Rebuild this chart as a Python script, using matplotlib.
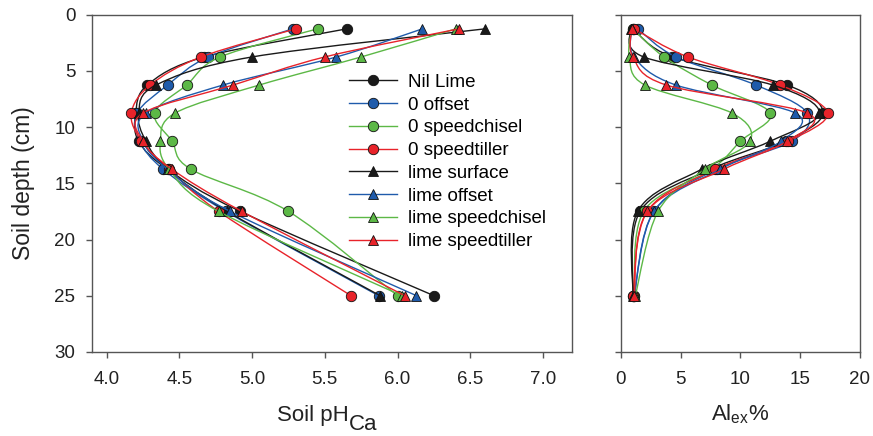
import numpy as np
import matplotlib
matplotlib.use("Agg")
import matplotlib.pyplot as plt
from matplotlib.path import Path
from matplotlib.patches import PathPatch

plt.rcParams['font.family'] = ['Liberation Sans', 'DejaVu Sans']
plt.rcParams['mathtext.fontset'] = 'custom'
plt.rcParams['mathtext.rm'] = 'Liberation Sans'
plt.rcParams['mathtext.it'] = 'Liberation Sans'

depth = [1.25, 3.75, 6.25, 8.75, 11.25, 13.75, 17.5, 25]

labels = ["Nil Lime", "0 offset", "0 speedchisel", "0 speedtiller",
          "lime surface", "lime offset", "lime speedchisel", "lime speedtiller"]
colors = ["#1a1a1a", "#1f5bab", "#5cb846", "#e8232a",
          "#1a1a1a", "#1f5bab", "#5cb846", "#e8232a"]
markers = ["o", "o", "o", "o", "^", "^", "^", "^"]

ph_nil = [5.65, 4.67, 4.28, 4.20, 4.22, 4.42, 4.92, 6.25]
ph_0off = [5.28, 4.70, 4.42, 4.21, 4.23, 4.39, 4.82, 5.87]
ph_0chisel = [5.45, 4.78, 4.55, 4.33, 4.45, 4.58, 5.25, 6.00]
ph_0tiller = [5.30, 4.65, 4.30, 4.17, 4.24, 4.43, 4.77, 5.68]
ph_lsurf = [6.60, 5.00, 4.34, 4.22, 4.27, 4.42, 4.83, 5.88]
ph_loff = [6.17, 5.58, 4.80, 4.27, 4.25, 4.42, 4.85, 6.13]
ph_lchisel = [6.40, 5.75, 5.05, 4.47, 4.37, 4.43, 4.77, 6.03]
ph_ltiller = [6.42, 5.50, 4.87, 4.25, 4.25, 4.45, 4.93, 6.05]

al_nil = [1.0, 4.3, 13.9, 16.9, 13.8, 7.5, 1.6, 1.0]
al_0off = [1.4, 4.6, 11.3, 15.6, 14.3, 8.0, 2.75, 1.1]
al_0chisel = [1.0, 3.6, 7.6, 12.5, 10.0, 7.6, 1.9, 1.1]
al_0tiller = [1.1, 5.6, 13.3, 17.3, 14.0, 7.9, 2.2, 1.0]
al_lsurf = [0.8, 1.9, 12.7, 16.6, 12.5, 6.75, 1.4, 1.0]
al_loff = [0.9, 1.1, 4.6, 14.6, 13.4, 8.3, 2.75, 1.1]
al_lchisel = [0.9, 0.7, 2.0, 9.3, 10.8, 7.0, 3.1, 1.2]
al_ltiller = [0.9, 1.0, 3.8, 15.6, 13.9, 8.6, 2.2, 1.1]

ph_all = [ph_nil, ph_0off, ph_0chisel, ph_0tiller, ph_lsurf, ph_loff, ph_lchisel, ph_ltiller]
al_all = [al_nil, al_0off, al_0chisel, al_0tiller, al_lsurf, al_loff, al_lchisel, al_ltiller]


def spline_path(xs, ys):
    # uniform Catmull-Rom through the points, as bezier segments
    p = np.column_stack([xs, ys]).astype(float)
    p = np.vstack([p[0], p, p[-1]])
    verts = [tuple(p[1])]
    codes = [Path.MOVETO]
    for i in range(1, len(p) - 2):
        c1 = p[i] + (p[i + 1] - p[i - 1]) / 6
        c2 = p[i + 1] - (p[i + 2] - p[i]) / 6
        verts += [tuple(c1), tuple(c2), tuple(p[i + 1])]
        codes += [Path.CURVE4] * 3
    return Path(verts, codes)


fig = plt.figure(figsize=(8.73, 4.36), dpi=100)
ax1 = fig.add_axes([0.1054, 0.193, 0.55, 0.773])
ax2 = fig.add_axes([0.7113, 0.193, 0.2738, 0.773])

for ax, data in [(ax1, ph_all), (ax2, al_all)]:
    for k in range(8):
        z = 2 + k
        ax.add_patch(PathPatch(spline_path(data[k], depth), fill=False,
                               edgecolor=colors[k], lw=1.0, zorder=z))
        ax.plot(data[k], depth, ls='none', marker=markers[k], ms=7.5,
                mfc=colors[k], mec='#111111', mew=0.6, zorder=z + 0.5)

# legend proxies
for k in range(8):
    ax1.plot([], [], color=colors[k], lw=1.0, marker=markers[k], ms=7.5,
             mfc=colors[k], mec='#111111', mew=0.6, label=labels[k])
ax1.legend(loc='upper left', bbox_to_anchor=(0.536, 0.825), frameon=False,
           fontsize=13.5, handlelength=2.55, handletextpad=0.6,
           labelspacing=0.3, borderpad=0, borderaxespad=0, numpoints=1)

ax1.set_xlim(3.9, 7.2)
ax1.set_xticks([4.0, 4.5, 5.0, 5.5, 6.0, 6.5, 7.0])
ax1.set_xticklabels(["4.0", "4.5", "5.0", "5.5", "6.0", "6.5", "7.0"])
ax2.set_xlim(0, 20)
ax2.set_xticks([0, 5, 10, 15, 20])

for ax in (ax1, ax2):
    ax.set_ylim(30, 0)
    ax.set_yticks([0, 5, 10, 15, 20, 25, 30])
    for s in ax.spines.values():
        s.set_color('#555555')
        s.set_linewidth(1.0)
    ax.tick_params(direction='out', length=4, width=1.0, color='#555555',
                   labelsize=13.5, labelcolor='#222222')
    ax.tick_params(axis='x', pad=10)
    ax.tick_params(axis='y', pad=8)

ax2.tick_params(axis='y', labelleft=False)

ax1.set_ylabel("Soil depth (cm)", fontsize=16.5, color='#222222', labelpad=14)

# x label of the pH panel: "Ca" at full size, lowered
ax1.annotate("Soil pH", xy=(0.5, 0), xycoords='axes fraction',
             xytext=(12, -50), textcoords='offset points',
             ha='right', va='baseline', fontsize=16, color='#222222')
ax1.annotate("Ca", xy=(0.5, 0), xycoords='axes fraction',
             xytext=(12, -56), textcoords='offset points',
             ha='left', va='baseline', fontsize=16, color='#222222')
ax2.set_xlabel("Al$_{\\mathrm{ex}}$%", fontsize=16, color='#222222', labelpad=10)

fig.savefig("out.png", dpi=100)
